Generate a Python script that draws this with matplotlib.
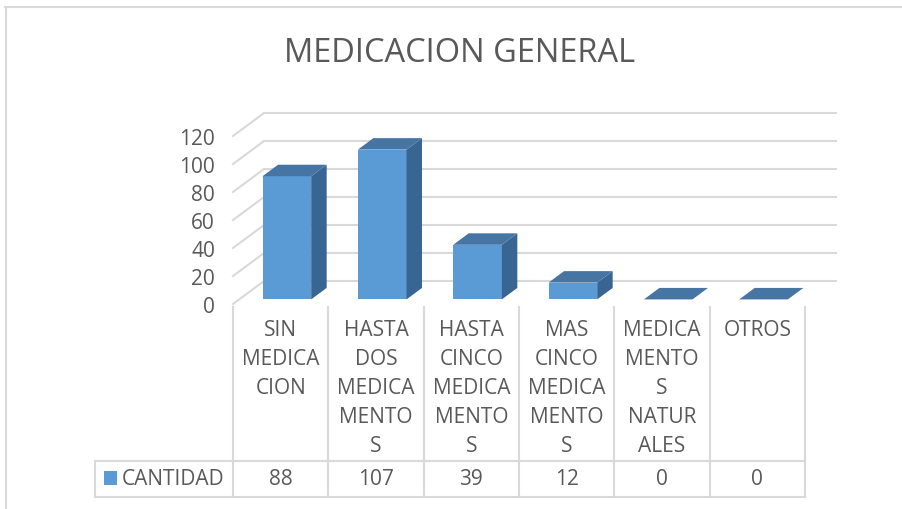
import matplotlib.pyplot as plt
from matplotlib.patches import Polygon, Rectangle
from matplotlib.lines import Line2D
from matplotlib.transforms import blended_transform_factory

# ---- data ----
categories = ["SIN\nMEDICA\nCION",
              "HASTA\nDOS\nMEDICA\nMENTO\nS",
              "HASTA\nCINCO\nMEDICA\nMENTO\nS",
              "MAS\nCINCO\nMEDICA\nMENTO\nS",
              "MEDICA\nMENTO\nS\nNATUR\nALES",
              "OTROS"]
cantidad = [88, 107, 39, 12, 0, 0]
yticks = [0, 20, 40, 60, 80, 100, 120]
series_name = "CANTIDAD"
title = "MEDICACION GENERAL"

plt.rcParams['font.family'] = ['Open Sans', 'DejaVu Sans']
TXT = '#595959'
GRID = '#d9d9d9'
FRONT = '#5b9bd5'
TOP = '#4674a3'
SIDE = '#386591'

W, H = 902, 510
fig = plt.figure(figsize=(W / 100, H / 100), dpi=100)

def fx(x):
    return x / W

def fy(y):
    return 1 - y / H

# front plane of the 3d plot: categories -0.5..5.5, values 0..120
ax = fig.add_axes([fx(233), fy(305), fx(805) - fx(233), fy(137) - fy(305)])
n = len(cantidad)
ax.set_xlim(-0.5, n - 0.5)
ax.set_ylim(0, 120)
for s in ax.spines.values():
    s.set_visible(False)
ax.set_xticks([])
ax.set_yticks(yticks)
ax.tick_params(axis='y', length=0, pad=13, labelsize=15, labelcolor=TXT)
ax.patch.set_visible(False)

# depth of the box (back wall offset) in data units
DXB, DYB = 0.325, 16.4
F0, F1 = 0.2, 0.7      # bar front / back depth fractions
BW = 0.51

# back wall gridlines + side wall
for v in yticks:
    ax.add_line(Line2D([-0.5 + DXB, n - 0.5 + DXB], [v + DYB, v + DYB],
                       color=GRID, lw=1.5, clip_on=False, zorder=1))
    ax.add_line(Line2D([-0.5, -0.5 + DXB], [v, v + DYB],
                       color=GRID, lw=1.5, clip_on=False, zorder=1))

# 3d bars
for i, v in enumerate(cantidad):
    x0 = i - BW / 2 + F0 * DXB
    x1 = i + BW / 2 + F0 * DXB
    y0 = F0 * DYB
    y1 = v + F0 * DYB
    ddx = (F1 - F0) * DXB
    ddy = (F1 - F0) * DYB
    if v > 0:
        ax.add_patch(Polygon([(x0, y0), (x1, y0), (x1, y1), (x0, y1)],
                             facecolor=FRONT, edgecolor='none', clip_on=False, zorder=3))
        ax.add_patch(Polygon([(x1, y0), (x1 + ddx, y0 + ddy), (x1 + ddx, y1 + ddy), (x1, y1)],
                             facecolor=SIDE, edgecolor='none', clip_on=False, zorder=3))
    ax.add_patch(Polygon([(x0, y1), (x1, y1), (x1 + ddx, y1 + ddy), (x0 + ddx, y1 + ddy)],
                         facecolor=TOP, edgecolor='none', clip_on=False, zorder=3))

# title
fig.text(fx(460), fy(53), title, ha='center', va='center', fontsize=23.5, color=TXT)

# data table
tr = blended_transform_factory(ax.transData, fig.transFigure)
edges = [i - 0.5 for i in range(n + 1)]
for e in edges:
    fig.add_artist(Line2D([e, e], [fy(308), fy(498)], transform=tr, color=GRID, lw=1.5))
fig.add_artist(Line2D([fx(95), fx(805)], [fy(462), fy(462)], color=GRID, lw=1.5))
fig.add_artist(Line2D([fx(95), fx(805)], [fy(498), fy(498)], color=GRID, lw=1.5))
fig.add_artist(Line2D([fx(95), fx(95)], [fy(462), fy(498)], color=GRID, lw=1.5))

for i, lab in enumerate(categories):
    fig.text(i, fy(320), lab, transform=tr, ha='center', va='top', fontsize=15,
             color=TXT, linespacing=1.5)
for i, v in enumerate(cantidad):
    fig.text(i, fy(480), str(v), transform=tr, ha='center', va='center', fontsize=15, color=TXT)

fig.add_artist(Rectangle((fx(104), fy(486)), fx(13), fy(472) - fy(486),
                         facecolor=FRONT, edgecolor='none', transform=fig.transFigure))
fig.text(fx(122), fy(480), series_name, ha='left', va='center', fontsize=15, color=TXT)

# chart border
fig.add_artist(Line2D([fx(5), fx(902)], [fy(7.5), fy(7.5)], color=GRID, lw=1.5))
fig.add_artist(Line2D([fx(5.5), fx(5.5)], [fy(7.5), fy(510)], color=GRID, lw=1.5))

fig.savefig('out.png', dpi=100)
